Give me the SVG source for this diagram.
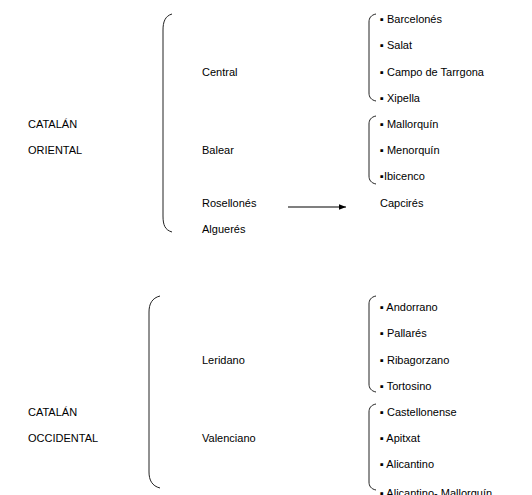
<svg xmlns="http://www.w3.org/2000/svg" width="532" height="495" viewBox="0 0 532 495">
<style>
text{font-family:"Liberation Sans",Arial,"DejaVu Sans",sans-serif;font-size:11px;fill:#000}
.br{fill:none;stroke:#222;stroke-width:1}
.ar{stroke:#000;stroke-width:1.2;fill:none}
</style>
<defs>
<marker id="ah" viewBox="0 0 10 10" refX="10" refY="5" markerWidth="7" markerHeight="7" markerUnits="userSpaceOnUse" orient="auto"><path d="M0,1 L10,5 L0,9 z" fill="#000"/></marker>
</defs>
<rect width="532" height="495" fill="#fff"/>
<g id="connectors">
<path class="br" d="M172,14 C165,16 163,22 163,30 L163,216 C163,225 165,230 172,232"/>
<path class="br" d="M160,296 C152,298 149,304 149,312 L149,472 C149,480 152,486 160,488"/>
<path class="br" d="M376,14 C371,15 369,18 369,22 L369,93 C369,97 371,100 376,101"/>
<path class="br" d="M376,116 C371,117 369,120 369,124 L369,176 C369,180 371,183 376,184"/>
<path class="br" d="M376,296 C371,297 369,300 369,304 L369,384 C369,388 371,391 376,392"/>
<path class="br" d="M376,404 C371,405 369,408 369,412 L369,482 C369,486 371,489 376,490"/>
<line class="ar" x1="288" y1="207" x2="346" y2="207" marker-end="url(#ah)"/>
</g>
<g id="oriental"><text x="28" y="128">CATALÁN</text><text x="28" y="154">ORIENTAL</text></g>
<g id="central"><text x="202" y="76">Central</text></g>
<g id="balear"><text x="202" y="154">Balear</text></g>
<g id="rosellones"><text x="202" y="207">Rosellonés</text></g>
<g id="algueres"><text x="202" y="233">Alguerés</text></g>
<g id="central-list">
<text x="380" y="23">▪ Barcelonés</text>
<text x="380" y="49">▪ Salat</text>
<text x="380" y="76">▪ Campo de Tarrgona</text>
<text x="380" y="102">▪ Xipella</text>
</g>
<g id="balear-list">
<text x="380" y="128">▪ Mallorquín</text>
<text x="380" y="154">▪ Menorquín</text>
<text x="380" y="180">▪Ibicenco</text>
</g>
<g id="capcires"><text x="380" y="207">Capcirés</text></g>
<g id="occidental"><text x="28" y="416">CATALÁN</text><text x="28" y="442">OCCIDENTAL</text></g>
<g id="leridano"><text x="202" y="364">Leridano</text></g>
<g id="valenciano"><text x="202" y="442">Valenciano</text></g>
<g id="leridano-list">
<text x="380" y="311">▪ Andorrano</text>
<text x="380" y="337">▪ Pallarés</text>
<text x="380" y="364">▪ Ribagorzano</text>
<text x="380" y="390">▪ Tortosino</text>
</g>
<g id="valenciano-list">
<text x="380" y="416">▪ Castellonense</text>
<text x="380" y="442">▪ Apitxat</text>
<text x="380" y="468">▪ Alicantino</text>
<text x="380" y="497">▪ Alicantino- Mallorquín</text>
</g>
</svg>
